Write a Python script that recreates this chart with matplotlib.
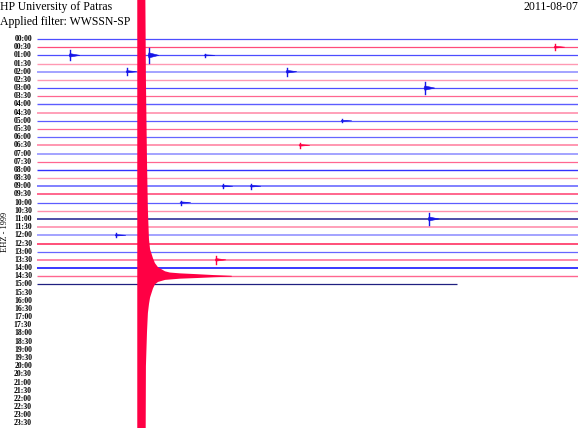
import matplotlib
matplotlib.use("Agg")
import matplotlib.pyplot as plt
import numpy as np

# ---------------- data ----------------
station = "HP University of Patras"
filter_text = "Applied filter: WWSSN-SP"
date_text = "2011-08-07"
channel_text = "EHZ - 1999"

# row labels (every 30 min for a day)
row_labels = [f"{h:02d}:{m:02d}" for h in range(24) for m in (0, 30)]
n_recorded = 31            # rows 00:00 .. 15:00 contain data
last_row_end_min = 23.3    # 15:00 row recorded up to ~15:23

# local events: row index, minute within row, amplitude (row units)
event_row = [1, 2, 2, 2, 4, 4, 6, 10, 13, 18, 18, 20, 22, 24, 27]
event_min = [28.72, 1.83, 6.21, 9.32, 4.99, 13.86, 21.51, 16.91, 14.58,
             10.31, 11.87, 7.98, 21.74, 4.38, 9.93]
event_amp = [0.35, 0.6, 0.9, 0.2, 0.4, 0.5, 0.75, 0.2, 0.3,
             0.25, 0.3, 0.25, 0.7, 0.25, 0.45]

# big earthquake on 14:30 row: envelope (minutes, amp above, amp below)
eq_row = 29
eq_min = [5.56, 5.99, 6.04, 6.10, 6.15, 6.21, 6.27, 6.43, 6.54, 6.71,
          7.10, 7.37, 7.93, 8.87, 9.8, 10.8]
eq_up = [40, 40, 24, 14, 8, 4.5, 3.3, 2.2, 1.6, 1.1,
         0.6, 0.45, 0.35, 0.25, 0.14, 0.05]
eq_down = [40, 40, 11, 6.8, 4.5, 3.4, 2.6, 1.5, 1.0, 0.7,
           0.45, 0.4, 0.3, 0.22, 0.12, 0.05]

# ---------------- styles ----------------
BLUE, BLUE_L, NAVY = "#4d4dff", "#9c9cff", "#1c1c90"
RED, PINK = "#ff4d7a", "#ff99b3"
row_colors = [BLUE, RED, BLUE, PINK, BLUE_L, PINK, BLUE, "#ff6690",
              "#5c5cff", PINK, "#5c5cff", "#ff6690", "#6666ff", "#ff8fab",
              BLUE_L, "#ff6690", "#3333ff", PINK, "#6b6bff", RED,
              "#5c5cff", "#ff8fab", NAVY, PINK, BLUE_L, "#ff1f55",
              "#6666ff", "#ff6690", "#2a2aff", "#ff6690", "#202080"]
row_lw = [0.9, 0.9, 0.9, 1.0, 1.3, 1.0, 0.9, 0.9,
          1.0, 1.3, 0.9, 0.9, 0.9, 1.3, 1.3, 0.9,
          1.0, 1.0, 1.2, 1.2, 0.9, 1.0, 1.1, 1.3,
          1.3, 1.1, 0.9, 1.1, 1.3, 1.0, 0.9]
EVENT_BLUE, EVENT_RED = "#1515e8", "#ff0044"
EQ_COLOR = "#ff0044"

W, H = 580, 428
x0_px, x1_px = 37, 578
y0_px, dy_px = 39, 8.18

fig = plt.figure(figsize=(W / 100, H / 100), dpi=100)
fig.patch.set_facecolor("white")
ax = fig.add_axes([x0_px / W, 0, (x1_px - x0_px) / W, 1])
ax.set_xlim(0, 30)
ax.set_ylim((H - y0_px) / dy_px, -y0_px / dy_px)
ax.axis("off")

# traces
for i in range(n_recorded):
    xend = 30 if i < n_recorded - 1 else last_row_end_min
    ax.plot([0, xend], [i, i], color=row_colors[i], lw=row_lw[i],
            solid_capstyle="butt", zorder=2)

# events: vertical spike plus short spindle-shaped coda
for r, m, a in zip(event_row, event_min, event_amp):
    c = EVENT_BLUE if r % 2 == 0 else EVENT_RED
    ax.fill([m - 0.05, m, m + 0.55, m], [r, r - a * 0.35, r, r + a * 0.35],
            color=c, lw=0.4, zorder=3)
    ax.plot([m, m], [r - a, r + a], color=c, lw=1.0, zorder=3)

# earthquake
em = np.array(eq_min)
ax.fill_between(em, eq_row - np.array(eq_up), eq_row + np.array(eq_down),
                color=EQ_COLOR, lw=0, zorder=4)

# row labels
for i, lab in enumerate(row_labels):
    ax.annotate(lab, xy=(0, i), xytext=(-5, 0), textcoords="offset pixels",
                ha="right", va="center", fontsize=5.6, weight="bold",
                family="Liberation Serif", annotation_clip=False)

fig.text(0, 1 - 7 / H, station, ha="left", va="center", fontsize=8.5,
         family="Liberation Serif")
fig.text(0, 1 - 22 / H, filter_text, ha="left", va="center", fontsize=8.5,
         family="Liberation Serif")
fig.text(578 / W, 1 - 7 / H, date_text, ha="right", va="center",
         fontsize=8.5, family="Liberation Serif")
fig.text(5 / W, 1 - 232 / H, channel_text, ha="center", va="center",
         rotation=90, fontsize=6, family="Liberation Serif")

fig.savefig("out.png", dpi=100, facecolor="white")
